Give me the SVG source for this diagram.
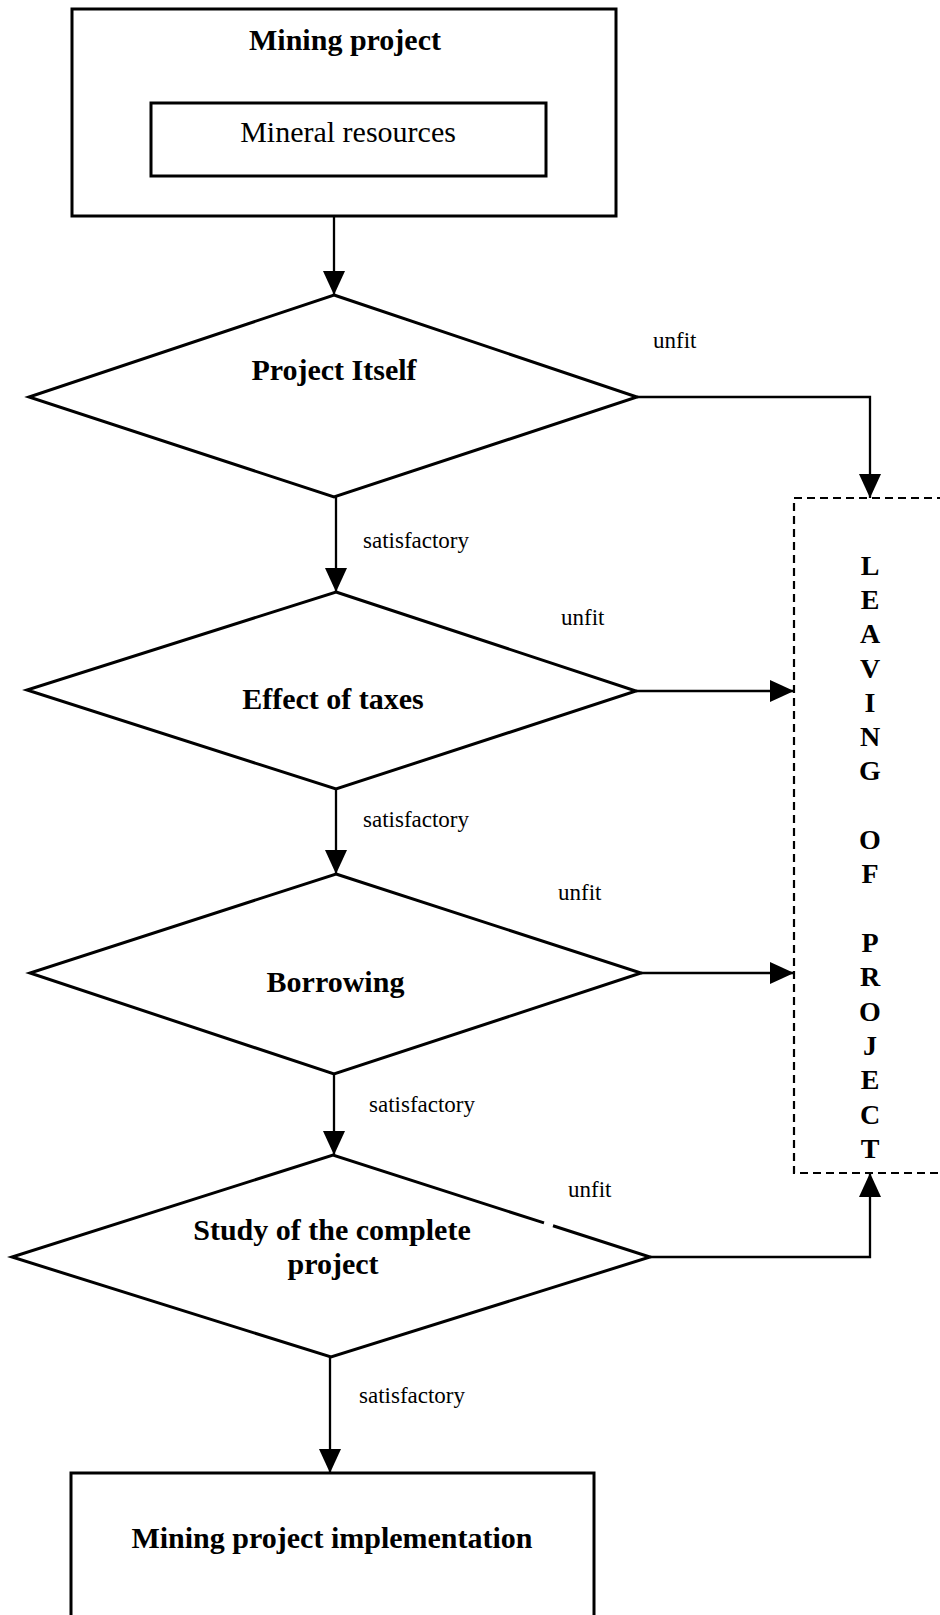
<svg xmlns="http://www.w3.org/2000/svg" width="940" height="1615" viewBox="0 0 940 1615">
<style>
  .box { fill: none; stroke: #000; stroke-width: 3; }
  .dia { fill: none; stroke: #000; stroke-width: 3; stroke-linejoin: miter; }
  .dash { fill: none; stroke: #000; stroke-width: 2.2; stroke-dasharray: 8 5; }
  .conn { fill: none; stroke: #000; stroke-width: 2.3; }
  .title { font-family: "Liberation Serif", "Times New Roman", serif; font-weight: bold; font-size: 30px; text-anchor: middle; fill: #000; }
  .reg { font-family: "Liberation Serif", "Times New Roman", serif; font-size: 30px; text-anchor: middle; fill: #000; }
  .lbl { font-family: "Liberation Serif", "Times New Roman", serif; font-size: 23px; fill: #000; }
  .vert { font-family: "Liberation Serif", "Times New Roman", serif; font-weight: bold; font-size: 28px; text-anchor: middle; fill: #000; }
</style>
<defs>
  <marker id="arrow" markerUnits="userSpaceOnUse" markerWidth="24" markerHeight="22" refX="24" refY="11" orient="auto">
    <path d="M0,0 L24,11 L0,22 Z" fill="#000"/>
  </marker>
</defs>
<rect width="940" height="1615" fill="#fff"/>

<g id="mining-project">
  <rect class="box" x="72" y="9" width="544" height="207"/>
  <text class="title" x="345" y="50">Mining project</text>
  <g id="mineral-resources">
    <rect class="box" x="151" y="103" width="395" height="73"/>
    <text class="reg" x="348" y="142">Mineral resources</text>
  </g>
</g>

<g id="project-itself">
  <polygon class="dia" points="334,295 637,397 334,497 29,397"/>
  <text class="title" x="334" y="380">Project Itself</text>
</g>

<g id="effect-of-taxes">
  <polygon class="dia" points="336,592 636,691 336,789 27,690"/>
  <text class="title" x="333" y="709">Effect of taxes</text>
</g>

<g id="borrowing">
  <polygon class="dia" points="336,874 641,973 334,1074 30,973"/>
  <text class="title" x="335.5" y="992">Borrowing</text>
</g>

<g id="study-complete-project">
  <path class="dia" d="M544,1222.9 L333,1155 L12,1257 L331,1357 L650,1257 L553,1225.8"/>
  <text class="title" x="332" y="1240">Study of the complete</text>
  <text class="title" x="333" y="1274">project</text>
</g>

<g id="leaving-of-project">
  <path class="dash" d="M945,498 H794 V1173 H945"/>
  <text class="vert" x="870" y="575">L</text>
  <text class="vert" x="870" y="609">E</text>
  <text class="vert" x="870" y="643">A</text>
  <text class="vert" x="870" y="678">V</text>
  <text class="vert" x="870" y="712">I</text>
  <text class="vert" x="870" y="746">N</text>
  <text class="vert" x="870" y="780">G</text>
  <text class="vert" x="870" y="849">O</text>
  <text class="vert" x="870" y="883">F</text>
  <text class="vert" x="870" y="952">P</text>
  <text class="vert" x="870" y="986">R</text>
  <text class="vert" x="870" y="1021">O</text>
  <text class="vert" x="870" y="1055">J</text>
  <text class="vert" x="870" y="1089">E</text>
  <text class="vert" x="870" y="1124">C</text>
  <text class="vert" x="870" y="1158">T</text>
</g>

<g id="implementation">
  <rect class="box" x="71" y="1473" width="523" height="160"/>
  <text class="title" x="332" y="1548">Mining project implementation</text>
</g>

<g id="connectors">
  <line class="conn" x1="334" y1="216" x2="334" y2="295" marker-end="url(#arrow)"/>
  <polyline class="conn" points="637,397 870,397 870,498" marker-end="url(#arrow)"/>
  <line class="conn" x1="336" y1="497" x2="336" y2="592" marker-end="url(#arrow)"/>
  <line class="conn" x1="636" y1="691" x2="794" y2="691" marker-end="url(#arrow)"/>
  <line class="conn" x1="336" y1="789" x2="336" y2="874" marker-end="url(#arrow)"/>
  <line class="conn" x1="641" y1="973" x2="794" y2="973" marker-end="url(#arrow)"/>
  <line class="conn" x1="334" y1="1074" x2="334" y2="1155" marker-end="url(#arrow)"/>
  <polyline class="conn" points="650,1257 870,1257 870,1173" marker-end="url(#arrow)"/>
  <line class="conn" x1="330" y1="1357" x2="330" y2="1473" marker-end="url(#arrow)"/>

  <text class="lbl" x="653" y="348">unfit</text>
  <text class="lbl" x="363" y="548">satisfactory</text>
  <text class="lbl" x="561" y="625">unfit</text>
  <text class="lbl" x="363" y="827">satisfactory</text>
  <text class="lbl" x="558" y="900">unfit</text>
  <text class="lbl" x="369" y="1112">satisfactory</text>
  <text class="lbl" x="568" y="1197">unfit</text>
  <text class="lbl" x="359" y="1403">satisfactory</text>
</g>
</svg>
